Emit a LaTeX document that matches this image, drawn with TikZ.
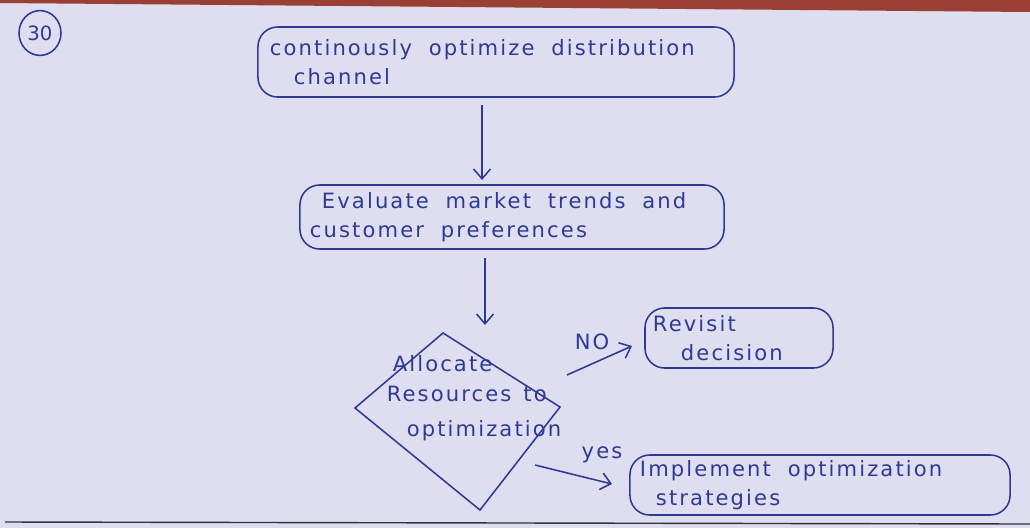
\documentclass[tikz,border=0pt]{standalone}
\usepackage{fontspec}
\setmainfont{DejaVu Sans}
\newfontfamily\handfont[LetterSpace=10]{DejaVu Sans}
\newcommand{\handsetup}{\handfont\fontsize{15}{21}\selectfont}
\newcommand{\gp}{\hspace{0.42cm}}
\usetikzlibrary{arrows.meta,shapes.geometric}
\definecolor{ink}{HTML}{2E3A96}
\definecolor{paper}{HTML}{DEDEF0}
\definecolor{edge}{HTML}{9A3F33}
\tikzset{
  hand/.style={font=\handsetup, text=ink},
  procbox/.style={draw=ink, line width=1.1pt, rounded corners=14pt, hand, align=left, inner xsep=0pt, inner ysep=0pt},
  flow/.style={draw=ink, line width=1.1pt, -{Straight Barb[length=7pt,width=12pt]}},
  lbl/.style={hand, inner sep=1pt}
}
\begin{document}
\begin{tikzpicture}[x=0.025cm,y=-0.025cm]
\useasboundingbox (0,0) rectangle (1030,528);
\fill[paper] (0,0) rectangle (1030,528);
\fill[edge] (0,0) -- (1030,0) -- (1030,12) -- (0,3) -- cycle;
\draw[black!80, line width=1pt] (5,522) -- (1030,524);
% circled number
\node[draw=ink, line width=1.1pt, ellipse, minimum width=1.05cm, minimum height=1.12cm, inner sep=0pt, text=ink, font=\fontsize{14}{16}\selectfont] (num) at (40,33) {30};
% boxes
\node[procbox, minimum width=11.9cm, minimum height=1.75cm, text width=11.3cm] (b1) at (496,62)
  {continously\gp optimize\gp distribution\\\hspace*{0.6cm}channel};
\node[procbox, minimum width=10.6cm, minimum height=1.6cm, text width=10.1cm] (b2) at (512,217)
  {\hspace*{0.3cm}Evaluate\gp market\gp trends\gp and\\customer\gp preferences};
\node[procbox, minimum width=4.7cm, minimum height=1.5cm, text width=4.3cm] (b3) at (739,338)
  {Revisit\\\hspace*{0.7cm}decision};
\node[procbox, minimum width=9.5cm, minimum height=1.5cm, text width=9.0cm] (b4) at (820,485)
  {Implement\gp optimization\\\hspace*{0.4cm}strategies};
% decision diamond
\coordinate (dt) at (443,333);
\coordinate (dl) at (355,408);
\coordinate (dr) at (560,407);
\coordinate (db) at (480,510);
\draw[ink, line width=1.1pt] (dt) -- (dr) -- (db) -- (dl) -- cycle;
\node[hand, align=left, inner sep=0pt] (dtext) at (474,398)
  {\hspace*{0.15cm}Allocate\\Resources\hspace{0.3cm}to\\[4pt]\hspace*{0.5cm}optimization};
% connectors
\coordinate (a1s) at (482,105);
\coordinate (a1e) at (482,180);
\draw[flow] (a1s) -- (a1e);
\coordinate (a2s) at (485,258);
\coordinate (a2e) at (485,325);
\draw[flow] (a2s) -- (a2e);
\coordinate (nos) at (567,375);
\coordinate (noe) at (632,346);
\draw[flow] (nos) -- (noe);
\node[lbl] (nolbl) at (592,342) {NO};
\coordinate (yss) at (535,465);
\coordinate (yse) at (612,484);
\draw[flow] (yss) -- (yse);
\node[lbl] (yslbl) at (602,455) {yes};
\end{tikzpicture}
\end{document}
